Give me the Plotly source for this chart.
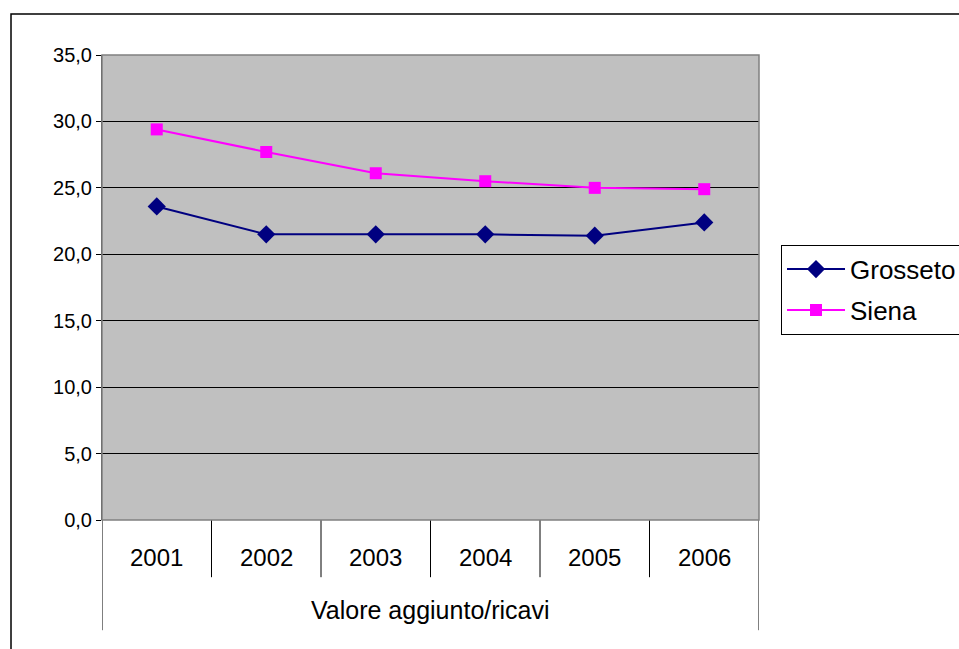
import plotly.graph_objects as go

years = ["2001", "2002", "2003", "2004", "2005", "2006"]
group_label = "Valore aggiunto/ricavi"
grosseto = [23.6, 21.5, 21.5, 21.5, 21.4, 22.4]
siena = [29.4, 27.7, 26.1, 25.5, 25.0, 24.9]
y_ticks = [0, 5, 10, 15, 20, 25, 30, 35]

FONT = "Liberation Sans, Arial, sans-serif"
x_idx = list(range(len(years)))

fig = go.Figure()
fig.add_trace(go.Scatter(
    x=x_idx, y=grosseto, name="Grosseto", mode="lines+markers", legendgroup="g",
    line=dict(color="#000080", width=2),
    marker=dict(symbol="diamond", size=14, color="#000080"),
))
fig.add_trace(go.Scatter(
    x=x_idx, y=siena, name="Siena", mode="lines+markers", legendgroup="s",
    line=dict(color="#FF00FF", width=2),
    marker=dict(symbol="square", size=12, color="#FF00FF"),
))

shapes = []
# category separators below the axis
for i in range(1, len(years)):
    shapes.append(dict(type="line", xref="x", yref="paper", x0=i - 0.5, x1=i - 0.5,
                       y0=0, y1=-0.123, line=dict(color="black", width=1)))
for xe in (-0.5, len(years) - 0.5):
    shapes.append(dict(type="line", xref="x", yref="paper", x0=xe, x1=xe,
                       y0=0, y1=-0.237, line=dict(color="black", width=1)))
# plot-area frame
shapes.append(dict(type="rect", xref="paper", yref="paper", x0=0, x1=1, y0=0, y1=1,
                   line=dict(color="#808080", width=1.5), layer="above"))
# chart border
shapes.append(dict(type="rect", xref="paper", yref="paper", x0=-0.1385, x1=1.6,
                   y0=-0.6, y1=1.088, line=dict(color="black", width=1.5)))

annotations = []
for i, yr in enumerate(years):
    annotations.append(dict(x=i, y=-0.08, xref="x", yref="paper", text=yr,
                            showarrow=False, font=dict(size=24, color="black", family=FONT),
                            yanchor="middle"))
annotations.append(dict(x=(len(years) - 1) / 2, y=-0.193, xref="x", yref="paper",
                        text=group_label, showarrow=False,
                        font=dict(size=25, color="black", family=FONT), yanchor="middle"))

fig.update_layout(
    width=959, height=649, autosize=False,
    margin=dict(l=102, r=200, t=55, b=129, autoexpand=False),
    paper_bgcolor="white", plot_bgcolor="#C0C0C0",
    separators=",.",
    font=dict(family=FONT, size=20, color="black"),
    xaxis=dict(range=[-0.5, len(years) - 0.5], tickvals=x_idx, showticklabels=False,
               showgrid=False, zeroline=False, ticks="", showline=False, fixedrange=True),
    yaxis=dict(range=[0, 35], tickvals=y_ticks, tickformat=".1f",
               showgrid=True, gridcolor="black", gridwidth=1, zeroline=False,
               ticks="outside", ticklen=5, tickcolor="black",
               showline=True, linecolor="#404040", linewidth=1,
               tickfont=dict(size=20, family=FONT, color="black")),
    legend=dict(x=1.0335, y=0.592, xanchor="left", yanchor="top",
                bordercolor="black", borderwidth=1, bgcolor="white",
                tracegroupgap=4,
                font=dict(size=26, family=FONT, color="black"), itemwidth=58),
    shapes=shapes, annotations=annotations,
)

fig.write_html("out.html")
